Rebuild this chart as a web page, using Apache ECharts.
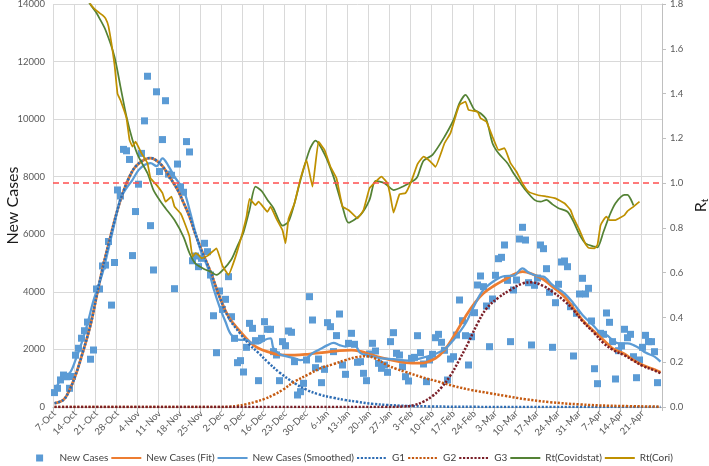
<!DOCTYPE html>
<html><head><meta charset="utf-8">
<script src="https://cdn.jsdelivr.net/npm/echarts@6/dist/echarts.min.js"></script>
<style>html,body{margin:0;padding:0;background:#fff}#c{width:709px;height:466px}</style>
</head><body><div id="c"></div>
<script>
// ---- data ----
const weekLabels = ['7-Oct','14-Oct','21-Oct','28-Oct','4-Nov','11-Nov','18-Nov','25-Nov','2-Dec','9-Dec','16-Dec','23-Dec','30-Dec','6-Jan','13-Jan','20-Jan','27-Jan','3-Feb','10-Feb','17-Feb','24-Feb','3-Mar','10-Mar','17-Mar','24-Mar','31-Mar','7-Apr','14-Apr','21-Apr'];
const dayCount = 203; // 7-Oct .. 27-Apr, one category per day
const leftTicks = [0, 14000, 2000];
const rightTicks = [0, 1.8, 0.2];

const newCases = [500,650,940,1110,1050,650,1060,1800,2040,2390,
2650,2950,1660,1980,4100,4100,4900,4930,5750,3540,
5020,7540,7330,8950,8900,8600,5260,6790,7740,8810,
9940,11490,6300,4760,10950,8180,9290,10640,8090,8050,
4110,8440,7650,7460,9220,8860,5080,5245,4875,5165,
5687,5395,4585,3170,1886,4030,3390,3740,4527,3137,
2385,1540,1610,1216,2073,2906,2733,2305,915,2385,
2965,2700,2700,1923,1806,915,2270,2130,2640,2595,
1575,417,532,822,1633,3833,3022,1367,1667,845,
1308,2930,2790,1923,2480,3230,1459,1135,2212,2560,
2178,1553,1575,1170,915,1841,2212,1945,1517,1344,
1459,1205,2270,2582,1865,1806,1400,1053,903,1690,
1725,2477,1886,1494,880,1633,1830,2407,2525,2248,
1970,938,1667,1747,2500,3717,2998,2477,1459,2442,
3276,4238,4551,4180,3509,2095,3752,4575,5152,5200,
5628,4400,2270,4065,4412,5836,6243,5800,4318,2154,
4228,4481,5628,5500,4805,3985,2074,3623,4263,5037,
5072,4874,3484,1772,3255,3926,4471,3926,4123,2988,
1330,810,2560,2525,3266,2942,2270,973,1956,2119,
2700,2407,2525,1747,1018,1633,2074,2490,2270,2270,
1921,845];

const fitCases = [[0,130],[3,250],[5,590],[7,1100],[9,1750],[12,2850],[14,3830],[16,4800],[18,5650],[21,6850],[23,7500],[25,8000],[27,8350],[30,8600],[32,8650],[34,8560],[36,8370],[38,8050],[41,7550],[43,7100],[45,6620],[47,6000],[49,5450],[52,4700],[55,3830],[58,3140],[62,2610],[65,2270],[68,2040],[72,1890],[75,1810],[80,1800],[85,1840],[90,1900],[95,1960],[99,1980],[102,1930],[106,1800],[111,1660],[117,1540],[122,1520],[127,1690],[130,1980],[133,2440],[137,3140],[140,3600],[143,3950],[147,4240],[150,4420],[153,4600],[156,4700],[159,4630],[163,4430],[166,4180],[170,3830],[173,3430],[176,3020],[180,2610],[183,2330],[186,2040],[190,1840],[193,1630],[196,1460],[200,1300],[202,1210]];

const smoothedCases = [[0,530],[3,1110],[5,1170],[7,1630],[9,2210],[11,2900],[13,3700],[16,4650],[18,5500],[20,6380],[22,7250],[24,7600],[26,7890],[28,8230],[30,8410],[32,8470],[34,8370],[36,8640],[38,8370],[40,8000],[43,7540],[45,6850],[47,6050],[49,5350],[51,4870],[53,4120],[55,3490],[57,2960],[59,2500],[62,2330],[64,2330],[66,2210],[68,2210],[70,2330],[72,2380],[73,2040],[75,1840],[77,1770],[80,1690],[82,1630],[84,1690],[86,1870],[88,1980],[91,2150],[93,2230],[95,2150],[97,2100],[100,2150],[102,1870],[105,1790],[109,1690],[113,1660],[118,1610],[122,1690],[127,1850],[130,2000],[133,2330],[137,2900],[140,3540],[143,4070],[147,4410],[150,4550],[153,4560],[156,4820],[158,4670],[161,4550],[163,4530],[166,4240],[170,3950],[173,3600],[176,3200],[180,2790],[182,2560],[184,2500],[186,2330],[188,2210],[191,2210],[193,2150],[195,2040],[197,1890],[200,1750],[202,1575]];

const g1 = [[0,130],[3,250],[5,590],[7,1100],[9,1750],[12,2850],[14,3830],[16,4800],[18,5650],[21,6850],[23,7500],[25,8000],[27,8350],[30,8600],[32,8650],[34,8560],[36,8370],[38,8050],[41,7550],[43,7100],[45,6620],[47,6000],[49,5450],[52,4700],[55,3830],[58,3110],[62,2540],[65,2170],[68,1880],[71,1570],[75,1200],[80,830],[84,600],[88,440],[93,320],[97,240],[101,180],[106,110],[111,70],[117,40],[125,20],[140,5],[160,0],[202,0]];

const g2 = [[0,0],[50,0],[55,0],[58,10],[61,40],[64,100],[67,180],[70,280],[73,420],[76,590],[80,880],[85,1150],[89,1360],[93,1490],[97,1630],[101,1740],[104,1760],[107,1680],[111,1450],[114,1320],[117,1220],[122,1050],[128,880],[133,730],[139,590],[145,480],[150,390],[157,270],[165,170],[175,90],[185,45],[202,12]];

const g3 = [[0,0],[100,0],[110,0],[116,15],[120,70],[123,190],[126,380],[129,680],[132,1100],[135,1650],[138,2250],[141,2900],[144,3420],[148,3800],[152,4070],[156,4290],[159,4330],[163,4200],[166,4000],[170,3680],[173,3370],[176,2980],[180,2560],[183,2220],[186,1990],[190,1790],[193,1610],[196,1430],[200,1270],[202,1170]];

const rtCovidstat = [[8,2.0],[11,1.82],[14,1.76],[15,1.736],[17,1.684],[20,1.565],[22,1.43],[24,1.297],[26,1.193],[28,1.118],[31,1.044],[33,0.969],[35,0.925],[37,0.888],[40,0.835],[43,0.76],[45,0.687],[47,0.64],[50,0.615],[52,0.605],[54,0.59],[56,0.61],[59,0.66],[61,0.72],[63,0.78],[65,0.88],[67,0.984],[69,0.965],[71,0.925],[73,0.888],[76,0.81],[78,0.828],[80,0.91],[82,1.014],[85,1.148],[87,1.19],[90,1.13],[93,1.029],[96,0.895],[98,0.823],[102,0.858],[105,0.925],[107,1.01],[110,1.0],[113,0.969],[116,0.984],[120,1.014],[121,1.029],[123,1.1],[126,1.126],[130,1.207],[133,1.282],[135,1.357],[137,1.394],[140,1.327],[142,1.312],[144,1.282],[146,1.178],[148,1.133],[151,1.089],[153,1.044],[155,1.006],[157,0.969],[160,0.925],[162,0.917],[164,0.925],[166,0.905],[168,0.888],[171,0.872],[173,0.828],[175,0.77],[177,0.731],[180,0.716],[181,0.713],[183,0.783],[185,0.855],[187,0.91],[190,0.947],[191,0.947],[192,0.93],[193,0.90]];

const rtCori = [[9,1.95],[12,1.80],[14,1.77],[16,1.75],[17,1.736],[18,1.70],[20,1.53],[21,1.40],[22,1.37],[24,1.29],[25,1.193],[26,1.163],[27,1.185],[29,1.133],[31,1.089],[32,1.022],[34,0.992],[36,0.955],[37,0.917],[39,0.94],[40,0.895],[42,0.865],[43,0.835],[45,0.761],[46,0.671],[47,0.687],[48,0.679],[49,0.664],[51,0.675],[54,0.709],[56,0.63],[58,0.59],[60,0.657],[62,0.746],[64,0.85],[65,0.93],[67,0.902],[68,0.917],[71,0.872],[72,0.895],[74,0.84],[76,0.79],[77,0.731],[78,0.84],[80,0.91],[82,1.02],[84,1.103],[86,0.984],[88,1.185],[90,1.148],[92,1.073],[94,1.022],[96,0.895],[98,0.88],[101,0.843],[103,0.88],[105,0.977],[107,1.006],[109,1.029],[111,0.999],[112,0.94],[113,0.868],[115,0.95],[117,0.955],[119,1.01],[121,1.085],[123,1.118],[125,1.10],[127,1.073],[130,1.178],[132,1.223],[134,1.312],[135,1.349],[137,1.364],[138,1.327],[141,1.319],[142,1.29],[144,1.274],[146,1.207],[148,1.148],[150,1.156],[152,1.089],[154,1.051],[156,0.999],[158,0.962],[161,0.947],[164,0.94],[167,0.932],[170,0.91],[172,0.88],[173,0.845],[175,0.79],[177,0.728],[178,0.711],[180,0.709],[181,0.725],[182,0.81],[183,0.835],[184,0.85],[185,0.835],[187,0.835],[190,0.857],[191,0.875],[193,0.895],[195,0.917]];

const rtThreshold = 1.0;

// ---- chart ----
const FONT = 'Lato';
const categories = [];
for (let i = 0; i < dayCount; i++) categories.push(String(i));
const weekly = (i) => i % 7 === 0;

const chart = echarts.init(document.getElementById('c'), null, {renderer: 'canvas'});
const dotted = [2.2, 1.6];
function lineSeries(name, data, color, width, type, smooth, extra) {
  return Object.assign({
    name, type: 'line', data, smooth, symbol: 'none', showSymbol: false,
    itemStyle: {color},
    lineStyle: {color, width, type}
  }, extra || {});
}
chart.setOption({
  animation: false,
  backgroundColor: '#fff',
  textStyle: {fontFamily: FONT},
  grid: {left: 53, right: 47, top: 4, bottom: 59, containLabel: false, outerBoundsMode: 'none'},
  legend: {
    top: 453, left: 'center', itemWidth: 30, itemHeight: 7, itemGap: 2, padding: 0,
    itemStyle: {opacity: 0},
    textStyle: {fontFamily: FONT, fontSize: 10, color: '#404040'},
    data: [
      {name: 'New Cases', icon: 'path://M0 0H10V10H0Z', itemStyle: {color: '#5B9BD5', opacity: 1}},
      'New Cases (Fit)', 'New Cases (Smoothed)', 'G1', 'G2', 'G3', 'Rt(Covidstat)', 'Rt(Cori)'
    ]
  },
  xAxis: {
    type: 'category', data: categories, boundaryGap: true,
    axisLine: {show: true, lineStyle: {color: '#bfbfbf'}},
    axisTick: {show: true, interval: (i) => weekly(i), length: 4, lineStyle: {color: '#bfbfbf'}},
    splitLine: {show: true, interval: (i) => weekly(i), lineStyle: {color: '#d9d9d9', width: 1}},
    axisLabel: {
      interval: (i) => weekly(i), rotate: 45, margin: 5,
      fontFamily: FONT, fontSize: 9.5, color: '#595959',
      formatter: (v, i) => weekLabels[i / 7] || ''
    }
  },
  yAxis: [
    {
      type: 'value', min: leftTicks[0], max: leftTicks[1], interval: leftTicks[2],
      name: 'New Cases', nameLocation: 'middle', nameRotate: 90, nameGap: 32, nameMoveOverlap: false,
      nameTextStyle: {fontFamily: FONT, fontSize: 16, color: '#1a1a1a'},
      axisLine: {show: false}, axisTick: {show: false},
      splitLine: {show: true, lineStyle: {color: '#d9d9d9', width: 1}},
      axisLabel: {fontFamily: FONT, fontSize: 9.5, color: '#595959', margin: 8, formatter: (v) => String(v)}
    },
    {
      type: 'value', position: 'right', min: rightTicks[0], max: rightTicks[1], interval: rightTicks[2],
      name: '{r|R}{t|t}', nameLocation: 'middle', nameRotate: 90, nameGap: 30, nameMoveOverlap: false,
      nameTextStyle: {fontFamily: FONT, color: '#1a1a1a',
        rich: {r: {fontFamily: FONT, fontSize: 16, color: '#1a1a1a', lineHeight: 18},
               t: {fontFamily: FONT, fontSize: 10, color: '#1a1a1a', lineHeight: 18, verticalAlign: 'bottom', padding: [6, 0, 0, 0]}}},
      axisLine: {show: true, lineStyle: {color: '#bfbfbf'}},
      axisTick: {show: true, inside: false, length: 4, lineStyle: {color: '#bfbfbf'}},
      splitLine: {show: false},
      axisLabel: {fontFamily: FONT, fontSize: 9.5, color: '#595959', margin: 8, formatter: (v) => v.toFixed(1)}
    }
  ],
  series: [
    {name: 'New Cases', type: 'scatter', data: newCases, symbol: 'rect', symbolSize: 7,
     itemStyle: {color: '#5B9BD5', opacity: 1}},
    lineSeries('New Cases (Fit)', fitCases, '#ED7D31', 2.75, 'solid', 0.4),
    lineSeries('New Cases (Smoothed)', smoothedCases, '#5B9BD5', 2.25, 'solid', 0.35),
    lineSeries('G1', g1, '#2E6DB4', 2.5, dotted, 0.4),
    lineSeries('G2', g2, '#C55A11', 2.5, dotted, 0.4),
    lineSeries('G3', g3, '#7A1F28', 2.5, dotted, 0.4),
    lineSeries('Rt(Covidstat)', rtCovidstat, '#548235', 1.75, 'solid', 0.25, {yAxisIndex: 1, clip: true,
      markLine: {silent: true, symbol: 'none', label: {show: false},
        lineStyle: {color: '#FF4F4F', width: 1.5, type: [6, 4], opacity: 1}, data: [{yAxis: rtThreshold}]}}),
    lineSeries('Rt(Cori)', rtCori, '#BF9000', 1.75, 'solid', 0.1, {yAxisIndex: 1, clip: true})
  ]
});
</script></body></html>
